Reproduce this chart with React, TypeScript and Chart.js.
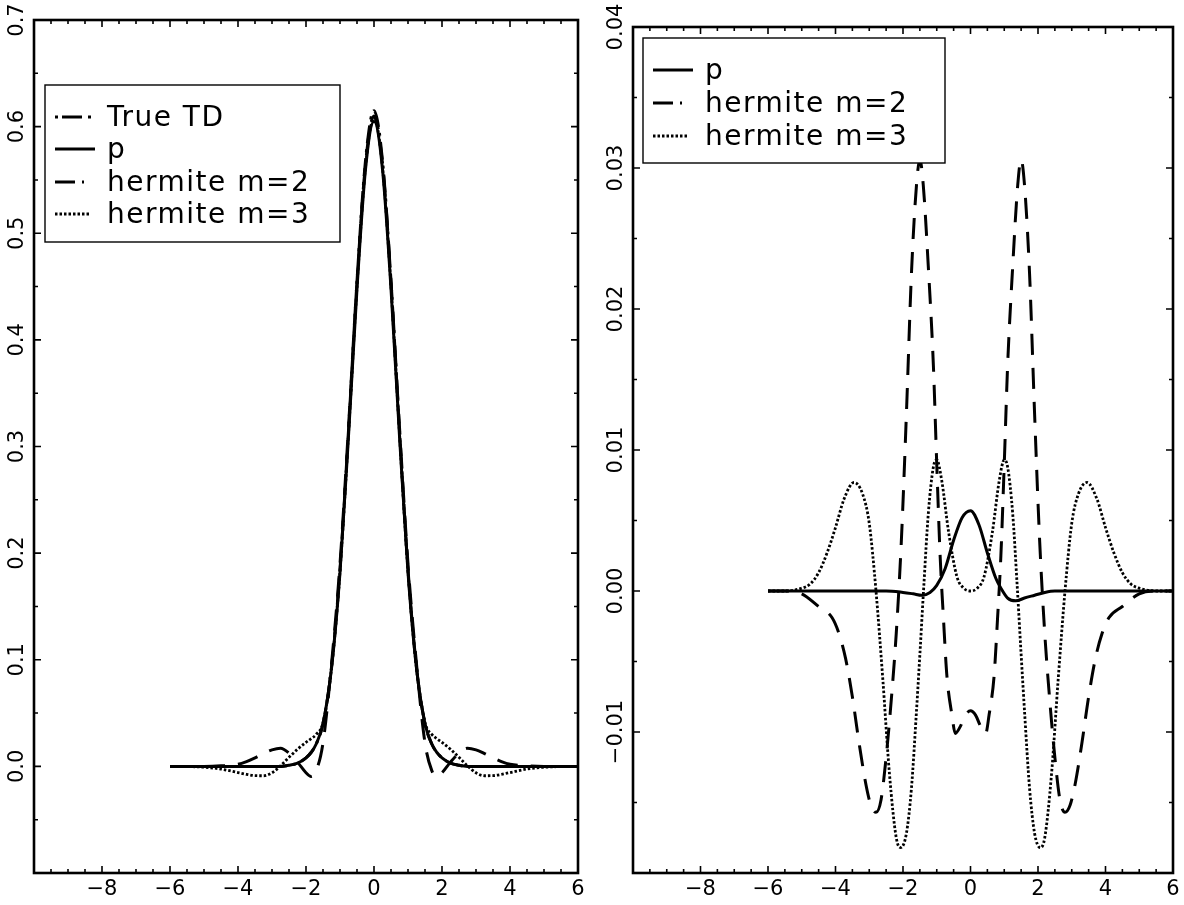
import React, { useEffect, useRef } from "react";
import { Chart, registerables } from "chart.js";
Chart.register(...registerables);

const FONT = '"DejaVu Sans", "Liberation Sans", sans-serif';

// ---------- Left panel data ----------
const leftX = [-6, -5.5, -5, -4.5, -4, -3.75, -3.5, -3.25, -3, -2.75, -2.5, -2.25, -2, -1.85, -1.7, -1.5, -1.25, -1, -0.75, -0.5, -0.25, 0, 0.25, 0.5, 0.75, 1, 1.25, 1.5, 1.7, 1.85, 2, 2.25, 2.5, 2.75, 3, 3.25, 3.5, 3.75, 4, 4.5, 5, 5.5, 6];
const leftTrueTD = [0, 0, 0, 0, 0, 0, 0, 0, 0, 0, 0.001, 0.003, 0.008, 0.013, 0.021, 0.04, 0.093, 0.185, 0.315, 0.455, 0.568, 0.615, 0.568, 0.455, 0.315, 0.185, 0.093, 0.04, 0.021, 0.013, 0.008, 0.003, 0.001, 0, 0, 0, 0, 0, 0, 0, 0, 0, 0];
const leftP = [0, 0, 0, 0, 0, 0, 0, 0, 0, 0, 0.001, 0.003, 0.008, 0.013, 0.021, 0.04, 0.092, 0.182, 0.31, 0.448, 0.56, 0.605, 0.56, 0.448, 0.31, 0.182, 0.092, 0.04, 0.021, 0.013, 0.008, 0.003, 0.001, 0, 0, 0, 0, 0, 0, 0, 0, 0, 0];
const leftHermite2 = [0, 0, 0, 0.0005, 0.002, 0.0045, 0.008, 0.012, 0.0155, 0.017, 0.0125, 0.004, -0.006, -0.0095, -0.004, 0.022, 0.096, 0.19, 0.318, 0.455, 0.565, 0.61, 0.565, 0.455, 0.318, 0.19, 0.096, 0.022, -0.004, -0.0095, -0.006, 0.004, 0.0125, 0.017, 0.0155, 0.012, 0.008, 0.0045, 0.002, 0.0005, 0, 0, 0];
const leftHermite3 = [0, -0.0002, -0.0008, -0.0025, -0.0058, -0.0075, -0.0087, -0.0088, -0.006, 0.0005, 0.0085, 0.016, 0.0225, 0.026, 0.03, 0.041, 0.092, 0.183, 0.312, 0.45, 0.562, 0.608, 0.562, 0.45, 0.312, 0.183, 0.092, 0.041, 0.03, 0.026, 0.0225, 0.016, 0.0085, 0.0005, -0.006, -0.0088, -0.0087, -0.0075, -0.0058, -0.0025, -0.0008, -0.0002, 0];

// ---------- Right panel data ----------
const rightPX = [-6, -4, -3, -2.5, -2, -1.7, -1.44, -1.2, -1, -0.75, -0.5, -0.25, 0, 0.25, 0.5, 0.75, 0.9, 1.1, 1.34, 1.6, 1.9, 2.2, 2.5, 3, 4, 6];
const rightP = [0, 0, 0, 0, -0.0001, -0.0002, -0.0003, -0.0001, 0.0004, 0.0016, 0.0036, 0.0052, 0.0057, 0.0047, 0.0027, 0.0009, 0.0002, -0.0005, -0.0007, -0.0005, -0.0003, -0.0001, 0, 0, 0, 0];
const rightH2X = [-6, -5.5, -5, -4.5, -4.1, -3.9, -3.7, -3.5, -3.3, -3.1, -2.95, -2.8, -2.65, -2.5, -2.35, -2.2, -2.05, -1.9, -1.75, -1.6, -1.5, -1.4, -1.25, -1.1, -1, -0.9, -0.8, -0.7, -0.55, -0.45, -0.3, -0.15, 0, 0.15, 0.3, 0.45, 0.55, 0.7, 0.8, 0.9, 1, 1.1, 1.25, 1.4, 1.5, 1.6, 1.75, 1.9, 2.05, 2.2, 2.35, 2.5, 2.65, 2.8, 2.95, 3.1, 3.3, 3.5, 3.7, 3.9, 4.1, 4.5, 5, 5.5, 6];
const rightH2 = [0, 0, -0.0002, -0.0011, -0.0019, -0.003, -0.0048, -0.0075, -0.0108, -0.0137, -0.0152, -0.0157, -0.0148, -0.0118, -0.0078, -0.003, 0.0035, 0.0125, 0.0225, 0.0288, 0.0306, 0.0288, 0.023, 0.016, 0.009, 0.0025, -0.002, -0.006, -0.0088, -0.0101, -0.0096, -0.0088, -0.0085, -0.0088, -0.0096, -0.0101, -0.0088, -0.006, -0.002, 0.0025, 0.009, 0.016, 0.023, 0.0288, 0.0306, 0.0288, 0.0225, 0.0125, 0.0035, -0.003, -0.0078, -0.0118, -0.0148, -0.0157, -0.0152, -0.0137, -0.0108, -0.0075, -0.0048, -0.003, -0.0019, -0.0011, -0.0002, 0, 0];
const rightH3X = [-6, -5.5, -5, -4.75, -4.5, -4.25, -4, -3.75, -3.45, -3.2, -3, -2.8, -2.6, -2.4, -2.2, -2.07, -1.9, -1.75, -1.6, -1.5, -1.38, -1.25, -1.1, -1, -0.85, -0.65, -0.4, -0.2, 0, 0.2, 0.4, 0.65, 0.85, 1, 1.1, 1.25, 1.38, 1.5, 1.6, 1.75, 1.9, 2.07, 2.2, 2.4, 2.6, 2.8, 3, 3.2, 3.45, 3.75, 4, 4.25, 4.5, 4.75, 5, 5.5, 6];
const rightH3 = [0, 0, 0.0002, 0.0005, 0.0013, 0.0027, 0.0045, 0.0065, 0.0077, 0.0069, 0.0048, 0, -0.0062, -0.013, -0.0175, -0.0182, -0.0172, -0.014, -0.0085, -0.0045, 0.0005, 0.0055, 0.0088, 0.0093, 0.0078, 0.0042, 0.001, 0.0002, 0, 0.0002, 0.001, 0.0042, 0.0078, 0.0093, 0.0088, 0.0055, 0.0005, -0.0045, -0.0085, -0.014, -0.0172, -0.0182, -0.0175, -0.013, -0.0062, 0, 0.0048, 0.0069, 0.0077, 0.0065, 0.0045, 0.0027, 0.0013, 0.0005, 0.0002, 0, 0];

// ---------- Ticks ----------
const xTickValues = [-8, -6, -4, -2, 0, 2, 4, 6];
const xTickLabels = ["\u22128", "\u22126", "\u22124", "\u22122", "0", "2", "4", "6"];
const leftYTickValues = [0, 0.1, 0.2, 0.3, 0.4, 0.5, 0.6, 0.7];
const leftYTickLabels = ["0.0", "0.1", "0.2", "0.3", "0.4", "0.5", "0.6", "0.7"];
const rightYTickValues = [-0.01, 0, 0.01, 0.02, 0.03, 0.04];
const rightYTickLabels = ["\u22120.01", "0.00", "0.01", "0.02", "0.03", "0.04"];

const zip = (xs: number[], ys: number[]) => xs.map((x, i) => ({ x, y: ys[i] }));

const labelFor = (v: number, vals: number[], labels: string[]) => {
  const i = vals.findIndex((t) => Math.abs(t - v) < 1e-9);
  return i >= 0 ? labels[i] : "";
};

const minorTicks = (min: number, max: number, step: number) => {
  const out: { value: number }[] = [];
  const n = Math.round((max - min) / step);
  for (let i = 0; i <= n; i++) out.push({ value: Math.round((min + i * step) * 1e6) / 1e6 });
  return out;
};

const measure = (text: string, font: string) => {
  const c = document.createElement("canvas").getContext("2d")!;
  c.font = font;
  return c.measureText(text).width;
};

const framePlugin = {
  id: "frameTicks",
  afterDatasetsDraw(chart: any, _a: any, opts: any) {
    const { ctx, chartArea: a, scales } = chart;
    const xs = scales.x, ys = scales.y;
    const isMajor = (v: number, step: number) => Math.abs(v / step - Math.round(v / step)) < 1e-6;
    ctx.save();
    ctx.strokeStyle = "#000";
    ctx.lineWidth = 1.6;
    ctx.beginPath();
    for (const t of xs.ticks) {
      const px = xs.getPixelForValue(t.value);
      const L = isMajor(t.value, opts.xStep) ? 7 : 4;
      ctx.moveTo(px, a.bottom); ctx.lineTo(px, a.bottom - L);
      ctx.moveTo(px, a.top); ctx.lineTo(px, a.top + L);
    }
    for (const t of ys.ticks) {
      const py = ys.getPixelForValue(t.value);
      const L = isMajor(t.value, opts.yStep) ? 7 : 4;
      ctx.moveTo(a.left, py); ctx.lineTo(a.left + L, py);
      ctx.moveTo(a.right, py); ctx.lineTo(a.right - L, py);
    }
    ctx.stroke();
    ctx.lineWidth = 2.6;
    ctx.strokeRect(a.left, a.top, a.right - a.left, a.bottom - a.top);
    ctx.restore();
  },
};

const boxLegendPlugin = {
  id: "boxLegend",
  afterDraw(chart: any, _a: any, opts: any) {
    const { ctx } = chart;
    const [bx, by, bw, bh] = opts.box;
    ctx.save();
    ctx.fillStyle = "#fff";
    ctx.fillRect(bx, by, bw, bh);
    ctx.strokeStyle = "#000";
    ctx.lineWidth = 1.4;
    ctx.strokeRect(bx, by, bw, bh);
    chart.data.datasets.forEach((ds: any, i: number) => {
      const y = opts.rows[i];
      ctx.beginPath();
      ctx.setLineDash(ds.legendDash || []);
      ctx.lineWidth = ds.borderWidth;
      ctx.strokeStyle = "#000";
      ctx.moveTo(bx + 10, y);
      ctx.lineTo(bx + 10 + (ds.legendLen || 40), y);
      ctx.stroke();
      ctx.setLineDash([]);
      ctx.fillStyle = "#000";
      ctx.font = `28px ${FONT}`;
      (ctx as any).letterSpacing = "1.5px";
      ctx.textBaseline = "alphabetic";
      ctx.textAlign = "left";
      ctx.fillText(ds.label, bx + 62, y + 9);
      (ctx as any).letterSpacing = "0px";
    });
    ctx.restore();
  },
};

const solid = { borderDash: [], borderWidth: 3, legendDash: [], legendLen: 40 };
const dashed = { borderDash: [21, 13], borderWidth: 3, legendDash: [20, 7], legendLen: 29 };
const dotted = { borderDash: [2.5, 2], borderWidth: 2.8, legendDash: [2.5, 2], legendLen: 34 };
const dashDot = { borderDash: [18, 6, 3, 6], borderWidth: 3, legendDash: [3, 4, 20, 6, 3, 6], legendLen: 40 };

function line(label: string, data: { x: number; y: number }[], style: any) {
  return {
    label,
    data,
    borderColor: "#000",
    backgroundColor: "#000",
    pointRadius: 0,
    fill: false,
    cubicInterpolationMode: "monotone",
    borderCapStyle: "butt",
    ...style,
  };
}

function makeConfig(panel: "left" | "right"): any {
  const left = panel === "left";
  const yVals = left ? leftYTickValues : rightYTickValues;
  const yLabels = left ? leftYTickLabels : rightYTickLabels;
  const yMin = left ? -0.1 : -0.02;
  const yMax = left ? 0.7 : 0.04;
  const yStep = left ? 0.1 : 0.01;
  const yAxisWidth = left ? 34 : 41;
  const tickFont = `21px ${FONT}`;
  const widest = Math.max(...yLabels.map((l) => measure(l, tickFont)));
  const labelCenter = 16; // distance of label centre from frame
  const yPad = labelCenter - widest / 2;

  const datasets = left
    ? [
        line("True TD", zip(leftX, leftTrueTD), dashDot),
        line("p", zip(leftX, leftP), solid),
        line("hermite m=2", zip(leftX, leftHermite2), dashed),
        line("hermite m=3", zip(leftX, leftHermite3), dotted),
      ]
    : [
        line("p", zip(rightPX, rightP), solid),
        line("hermite m=2", zip(rightH2X, rightH2), dashed),
        line("hermite m=3", zip(rightH3X, rightH3), dotted),
      ];

  return {
    type: "line",
    data: { datasets },
    plugins: [framePlugin, boxLegendPlugin],
    options: {
      animation: false,
      responsive: false,
      devicePixelRatio: 1,
      layout: { padding: left ? { left: 0, right: 14, top: 20, bottom: 0 } : { left: 0, right: 11, top: 27, bottom: 0 } },
      plugins: {
        legend: { display: false },
        tooltip: { enabled: false },
        frameTicks: { xStep: 2, yStep },
        boxLegend: left
          ? { box: [45, 85, 295, 157], rows: [117, 149, 182, 214] }
          : { box: [51, 38, 302, 125], rows: [70, 103, 136] },
      },
      scales: {
        x: {
          type: "linear",
          min: -10,
          max: 6,
          grid: { display: false, drawTicks: false },
          border: { display: false },
          afterBuildTicks: (s: any) => { s.ticks = minorTicks(-10, 6, 0.5); },
          afterFit: (s: any) => { s.height = 32; },
          ticks: {
            autoSkip: false,
            maxRotation: 0,
            minRotation: 0,
            padding: 4,
            color: "#000",
            font: { family: FONT, size: 21 },
            callback: (v: number) => labelFor(v, xTickValues, xTickLabels),
          },
        },
        y: {
          type: "linear",
          min: yMin,
          max: yMax,
          grid: { display: false, drawTicks: false },
          border: { display: false },
          afterBuildTicks: (s: any) => { s.ticks = minorTicks(yMin, yMax, yStep / 2); },
          afterFit: (s: any) => { s.width = yAxisWidth; },
          ticks: {
            autoSkip: false,
            minRotation: 90,
            maxRotation: 90,
            crossAlign: "center",
            padding: yPad,
            color: "#000",
            font: { family: FONT, size: 21 },
            callback: (v: number) => labelFor(v, yVals, yLabels),
          },
        },
      },
    },
  };
}

function Panel({ panel, left }: { panel: "left" | "right"; left: number }) {
  const ref = useRef<HTMLCanvasElement>(null);
  useEffect(() => {
    const chart = new Chart(ref.current!, makeConfig(panel));
    return () => chart.destroy();
  }, [panel]);
  return (
    <canvas
      ref={ref}
      width={592}
      height={905}
      style={{ position: "absolute", left, top: 0, width: 592, height: 905 }}
    />
  );
}

export default function App() {
  return (
    <div style={{ position: "absolute", left: 0, top: 0, width: 1184, height: 905, background: "#fff" }}>
      <Panel panel="left" left={0} />
      <Panel panel="right" left={592} />
    </div>
  );
}
